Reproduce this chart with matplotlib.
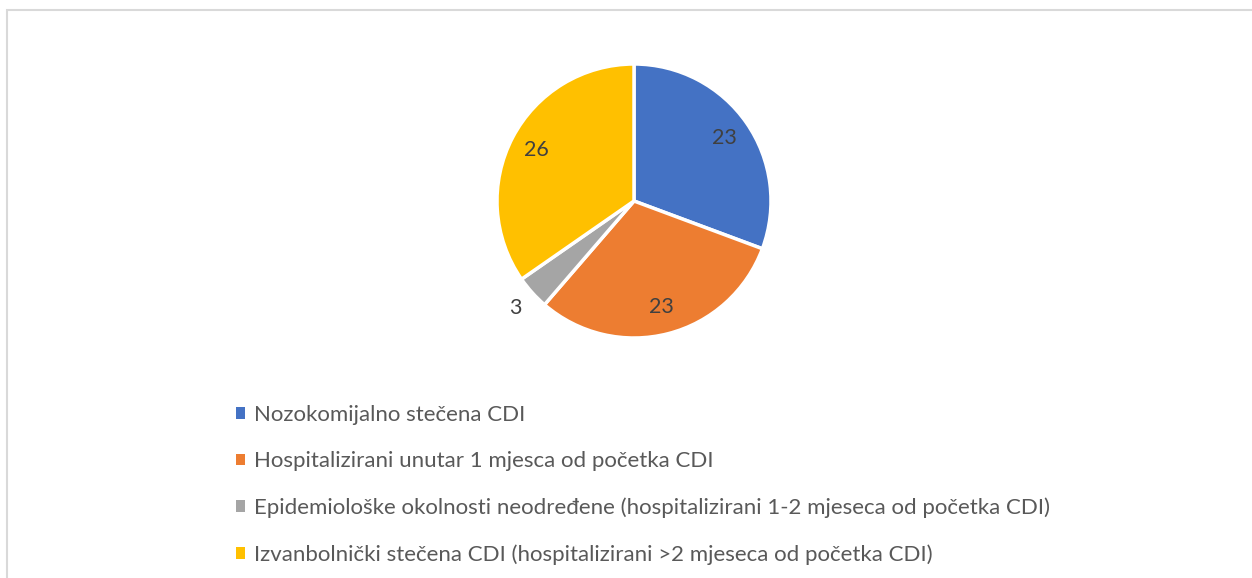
import numpy as np
import matplotlib.pyplot as plt
from matplotlib.patches import Rectangle, Patch

categories = [
    "Nozokomijalno stečena CDI",
    "Hospitalizirani unutar 1 mjesca od početka CDI",
    "Epidemiološke okolnosti neodređene (hospitalizirani 1-2 mjeseca od početka CDI)",
    "Izvanbolnički stečena CDI (hospitalizirani >2 mjeseca od početka CDI)",
]
values = [23, 23, 3, 26]
colors = ["#4472C4", "#ED7D31", "#A5A5A5", "#FFC000"]

plt.rcParams['font.family'] = ['Lato', 'DejaVu Sans']

W, H = 1252, 578
fig = plt.figure(figsize=(W / 100, H / 100), dpi=100)

# pie centre (634, 201) px, radius 137 px
cx, cy, r = 634, 201, 137
ax = fig.add_axes([(cx - r) / W, (H - cy - r) / H, 2 * r / W, 2 * r / H])
wedges, _ = ax.pie(values, colors=colors, startangle=90, counterclock=False,
                   wedgeprops=dict(edgecolor="white", linewidth=2.5))
ax.set_xlim(-1, 1)
ax.set_ylim(-1, 1)
ax.set_aspect("equal")

# data labels
for w, v in zip(wedges, values):
    ang = np.deg2rad((w.theta1 + w.theta2) / 2)
    dist = 0.8 if v > 5 else 1.17
    ax.text(dist * np.cos(ang), dist * np.sin(ang), str(v), ha="center", va="center",
            fontsize=15.5, color="#404040")

handles = [Patch(facecolor=c, edgecolor="none") for c in colors]
fig.legend(handles, categories, loc="upper left", bbox_to_anchor=(216 / W, 1 - 385 / H),
           frameon=False, fontsize=16, labelcolor="#595959",
           handlelength=0.4, handleheight=0.4, handletextpad=0.4, labelspacing=1.18)

# outer frame
fig.patches.append(Rectangle((6.5 / W, -0.1), 1.2, 1 - 9.5 / H + 0.1, transform=fig.transFigure,
                             fill=False, edgecolor="#d9d9d9", linewidth=1.5))

fig.savefig("out.png", dpi=100)
